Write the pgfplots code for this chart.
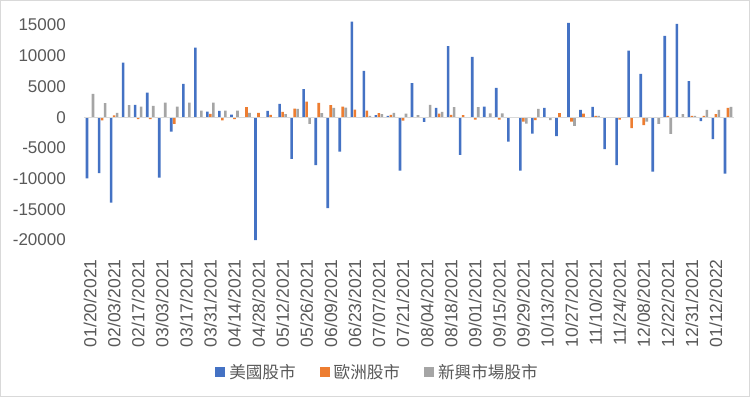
\documentclass[border=0pt]{standalone}
\usepackage{fontspec}
\setmainfont{Liberation Sans}
\newfontfamily\cjk{Noto Sans CJK TC}
\usepackage{pgfplots}
\usepackage{pgfplotstable}
\pgfplotsset{compat=1.18}
\definecolor{cblue}{HTML}{4472C4}
\definecolor{corange}{HTML}{ED7D31}
\definecolor{cgray}{HTML}{A5A5A5}
\definecolor{ctext}{HTML}{595959}
\pgfplotstableread{
i blue orange gray
0 -9950 0 3800
1 -9120 -500 2280
2 -13900 300 700
3 8900 0 1950
4 2000 -300 1740
5 4020 -300 1850
6 -9830 0 2390
7 -2330 -1090 1740
8 5430 0 2390
9 11350 0 1090
10 920 540 2390
11 1030 -500 1090
12 430 -300 1090
13 0 1630 700
14 -20000 700 0
15 1030 380 0
16 2170 870 490
17 -6790 1410 1360
18 4560 2550 -1090
19 -7820 2330 650
20 -14820 1950 1520
21 -5590 1740 1570
22 15580 1250 0
23 7550 1090 200
24 330 650 490
25 220 380 700
26 -8690 -550 600
27 5540 0 330
28 -760 0 2000
29 1520 600 870
30 11570 380 1630
31 -6140 330 0
32 9830 -400 1660
33 1710 0 640
34 4760 -400 640
35 -3960 0 0
36 -8690 -700 -1030
37 -2660 -490 1360
38 1520 0 -490
39 -3100 650 0
40 15370 -700 -1410
41 1200 600 0
42 1680 200 200
43 -5210 0 0
44 -7820 -380 0
45 10860 -1790 0
46 7060 -1300 -700
47 -8850 0 -1090
48 13250 200 -2720
49 15200 0 490
50 5860 200 200
51 -650 200 1200
52 -3580 490 1200
53 -9180 1520 1680
}\flows
\begin{document}
\begin{tikzpicture}[x=1pt,y=1pt]
\useasboundingbox (0,0) rectangle (750,397);
\fill[white] (0,0) rectangle (750,397);
\draw[black!15, line width=1pt] (0.5,0.5) rectangle (749.5,396.5);
\begin{axis}[
  at={(84pt,157pt)}, anchor=south west,
  scale only axis, width=650pt, height=224.1pt,
  xmin=-0.5, xmax=53.5, ymin=-20000, ymax=16500,
  ybar=0.4pt, bar width=2.6pt,
  axis line style={draw=none}, tick style={draw=none},
  xtick={0,2,...,52},
  xticklabels={01/20/2021,02/03/2021,02/17/2021,03/03/2021,03/17/2021,03/31/2021,04/14/2021,04/28/2021,05/12/2021,05/26/2021,06/09/2021,06/23/2021,07/07/2021,07/21/2021,08/04/2021,08/18/2021,09/01/2021,09/15/2021,09/29/2021,10/13/2021,10/27/2021,11/10/2021,11/24/2021,12/08/2021,12/22/2021,12/31/2021,01/12/2022},
  ytick={-20000,-15000,...,15000},
  scaled y ticks=false,
  yticklabel={\pgfmathprintnumber[fixed,precision=0,1000 sep={}]{\tick}},
  /pgf/number format/assume math mode=true,
  tick label style={font=\fontsize{17}{20}\selectfont, text=ctext, inner sep=0pt},
  xticklabel style={rotate=90, anchor=east, font=\fontsize{17.5}{20}\selectfont},
  xticklabel shift=15pt,
  yticklabel style={anchor=east},
  yticklabel shift=18pt,
  legend columns=3,
  legend style={at={(0.4515,-0.589)}, anchor=center, draw=none, fill=none,
    font=\cjk\fontsize{16.6}{19}\selectfont, text=ctext,
    /tikz/every odd column/.append style={column sep=2pt},
    /tikz/every even column/.append style={column sep=22pt}},
  legend image code/.code={\fill[#1] (0pt,-5pt) rectangle (10pt,5pt);},
]
\addplot[fill=cblue, draw=none] table[x=i, y=blue] {\flows};
\addplot[fill=corange, draw=none] table[x=i, y=orange] {\flows};
\addplot[fill=cgray, draw=none] table[x=i, y=gray] {\flows};
\draw[black!15, line width=1pt] (axis cs:-0.5,0) -- (axis cs:53.5,0);
\legend{美國股市,歐洲股市,新興市場股市}
\end{axis}
\end{tikzpicture}
\end{document}
